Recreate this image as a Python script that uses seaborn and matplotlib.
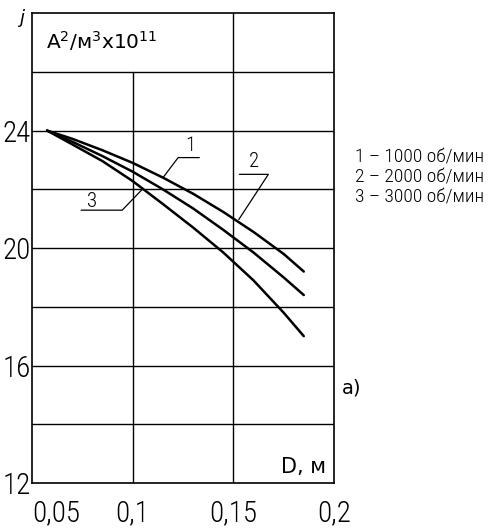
import numpy as np
import pandas as pd
import seaborn as sns
import matplotlib.pyplot as plt
from matplotlib import font_manager

# --- data ---
D = [0.0575, 0.07, 0.085, 0.1, 0.115, 0.13, 0.145, 0.16, 0.175, 0.185]
j_1000 = [24.0, 23.72, 23.33, 22.9, 22.4, 21.85, 21.23, 20.55, 19.8, 19.2]
j_2000 = [24.0, 23.62, 23.13, 22.6, 22.0, 21.35, 20.62, 19.85, 19.0, 18.4]
j_3000 = [24.0, 23.53, 22.96, 22.28, 21.5, 20.7, 19.85, 18.9, 17.8, 17.0]
x_ticks = [0.05, 0.1, 0.15, 0.2]
x_labels = ["0,05", "0,1", "0,15", "0,2"]
y_ticks = [12, 16, 20, 24]
y_labels = ["12", "16", "20", "24"]
legend_lines = ["1 – 1000 об/мин", "2 – 2000 об/мин", "3 – 3000 об/мин"]

df = pd.DataFrame({
    "D": D * 3,
    "j": j_1000 + j_2000 + j_3000,
    "curve": ["1"] * len(D) + ["2"] * len(D) + ["3"] * len(D),
})

sns.set_style("white")
plt.rcParams['font.family'] = ['DejaVu Sans']
plt.rcParams['text.color'] = 'black'

# narrowest face we can find
names = {f.name for f in font_manager.fontManager.ttflist}
NARROW = [n for n in ['Liberation Sans Narrow', 'Roboto Condensed', 'Open Sans Condensed',
                      'DejaVu Sans Condensed'] if n in names] + ['DejaVu Sans']
NARROW_KW = dict(family=NARROW, stretch='condensed')

fig = plt.figure(figsize=(4.9, 5.28), dpi=100)
ax = fig.add_axes([0.0653, 0.0852, 0.6163, 0.890])

# grid: horizontal every 2, vertical at 0.15 full height, 0.1 stops at 26
for y in range(14, 28, 2):
    ax.axhline(y, color="black", lw=1.0, zorder=1)
ax.axvline(0.15, color="black", lw=1.0, zorder=1)
ax.axvline(0.1, ymax=(26 - 12) / 16, color="black", lw=1.0, zorder=1)

sns.lineplot(data=df, x="D", y="j", hue="curve", palette=["black"] * 3,
             lw=1.8, legend=False, ax=ax, zorder=3)

ax.set_xlim(0.05, 0.2)
ax.set_ylim(12, 28)
ax.set_xticks(x_ticks)
ax.set_xticklabels(x_labels, fontsize=21, color="black", weight="light", **NARROW_KW)
ax.get_xticklabels()[0].set_ha("left")
ax.set_yticks(y_ticks)
ax.set_yticklabels(y_labels, fontsize=21, color="black", weight="light", **NARROW_KW)
ax.tick_params(axis="x", length=0, pad=12)
ax.tick_params(axis="y", length=0, pad=1)
ax.set_xlabel("")
ax.set_ylabel("")
for s in ax.spines.values():
    s.set_color("black")
    s.set_linewidth(1.2)

# leader lines with curve numbers
leaders = [
    ("1", [0.1331, 0.1226, 0.1152], [23.08, 23.08, 22.41], (0.1286, 23.48)),
    ("2", [0.1530, 0.1674, 0.1527], [22.51, 22.51, 20.97], (0.1604, 22.95)),
    ("3", [0.0744, 0.0948, 0.1052], [21.29, 21.29, 22.03], (0.0799, 21.6)),
]
for lab, xs, ys, (tx, ty) in leaders:
    ax.plot(xs, ys, color="black", lw=0.9, zorder=2)
    ax.text(tx, ty, lab, ha="center", va="center", fontsize=15,
            weight="light", **NARROW_KW)

ax.text(0.057, 27.05, r"A$^2$/м$^3$x10$^{11}$", fontsize=14.5, va="center")
ax.text(0.196, 12.55, "D, м", fontsize=15, ha="right", va="center")

fig.text(22 / 490, 1 - 18 / 528, "j", fontsize=13, style="italic",
         ha="center", va="center")
for i, t in enumerate(legend_lines):
    fig.text(355 / 490, 1 - (157 + 20 * i) / 528, t, fontsize=14,
             va="center", weight="light", **NARROW_KW)
fig.text(342 / 490, 1 - 388 / 528, "а)", fontsize=14, va="center")

fig.savefig("out.png", dpi=100)
